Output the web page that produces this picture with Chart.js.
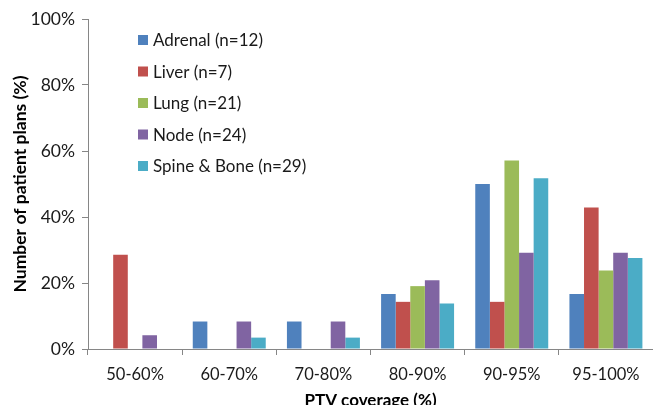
<!DOCTYPE html>
<html>
<head>
<meta charset="utf-8">
<script src="https://cdn.jsdelivr.net/npm/chart.js@4"></script>
<style>
  html, body { margin: 0; padding: 0; background: #fff; }
  #wrap { width: 653px; height: 405px; }
</style>
</head>
<body>
<div id="wrap"><canvas id="c" width="653" height="405"></canvas></div>
<script>
// PTV coverage bins
const categories = ['50-60%', '60-70%', '70-80%', '80-90%', '90-95%', '95-100%'];

// Share of patient plans per bin (%), one array per site
const adrenal   = [0, 8.33, 8.33, 16.67, 50.0, 16.67];
const liver     = [28.57, 0, 0, 14.29, 14.29, 42.86];
const lung      = [0, 0, 0, 19.05, 57.14, 23.81];
const node      = [4.17, 8.33, 8.33, 20.83, 29.17, 29.17];
const spineBone = [0, 3.45, 3.45, 13.79, 51.72, 27.59];

const seriesLabels = ['Adrenal (n=12)', 'Liver (n=7)', 'Lung (n=21)', 'Node (n=24)', 'Spine & Bone (n=29)'];
const seriesColors = ['#4F81BD', '#C0504D', '#9BBB59', '#8064A2', '#4BACC6'];

const yTicks = [0, 20, 40, 60, 80, 100];

const FONT = 'Lato, "Open Sans", sans-serif';
const AXIS_GREY = '#868686';

// Vertical legend drawn inside the plot area
const insideLegend = {
  id: 'insideLegend',
  afterDraw(chart, args, opts) {
    const ctx = chart.ctx;
    ctx.save();
    ctx.font = opts.font;
    ctx.textBaseline = 'middle';
    ctx.textAlign = 'left';
    chart.data.datasets.forEach((ds, i) => {
      const y = opts.y + i * opts.spacing;
      ctx.fillStyle = ds.backgroundColor;
      ctx.fillRect(opts.x, y - opts.box / 2, opts.box, opts.box);
      ctx.fillStyle = opts.color;
      ctx.fillText(ds.label, opts.x + opts.box + 5, y + 1);
    });
    ctx.restore();
  }
};

const seriesData = [adrenal, liver, lung, node, spineBone];

new Chart(document.getElementById('c'), {
  type: 'bar',
  data: {
    labels: categories,
    datasets: seriesData.map((vals, i) => ({
      label: seriesLabels[i],
      data: vals,
      backgroundColor: seriesColors[i],
      borderWidth: 0,
      categoryPercentage: 0.775,
      barPercentage: 1.0
    }))
  },
  options: {
    responsive: false,
    animation: false,
    layout: { padding: { top: 19, right: 0, bottom: -6, left: 0 } },
    plugins: {
      legend: { display: false },
      tooltip: { enabled: false },
      insideLegend: {
        x: 138, y: 40, spacing: 31.5, box: 10,
        font: '17px ' + FONT, color: '#1a1a1a'
      }
    },
    scales: {
      x: {
        offset: true,
        grid: {
          display: true,
          offset: true,
          drawOnChartArea: false,
          drawTicks: true,
          tickLength: 6,
          color: AXIS_GREY
        },
        border: { display: true, color: AXIS_GREY, width: 1 },
        ticks: {
          color: '#1a1a1a',
          font: { family: FONT, size: 16.5 },
          padding: 10,
          maxRotation: 0
        },
        title: {
          display: true,
          text: 'PTV coverage (%)',
          color: '#000',
          font: { family: FONT, size: 17, weight: 'bold' },
          padding: { top: 2, bottom: 0 }
        },
        afterFit(scale) { scale.height = 62; }
      },
      y: {
        min: 0,
        max: 100,
        afterBuildTicks(scale) { scale.ticks = yTicks.map(v => ({ value: v })); },
        grid: {
          display: true,
          drawOnChartArea: false,
          drawTicks: true,
          tickLength: 6,
          color: AXIS_GREY
        },
        border: { display: true, color: AXIS_GREY, width: 1 },
        ticks: {
          color: '#1a1a1a',
          font: { family: FONT, size: 17.5 },
          padding: 7,
          callback: v => v + '%'
        },
        title: {
          display: true,
          text: 'Number of patient plans (%)',
          color: '#000',
          font: { family: FONT, size: 17.5, weight: 'bold' },
          padding: { top: 10, bottom: 4 }
        },
        afterFit(scale) { scale.width = 88; }
      }
    }
  },
  plugins: [insideLegend]
});
</script>
</body>
</html>
